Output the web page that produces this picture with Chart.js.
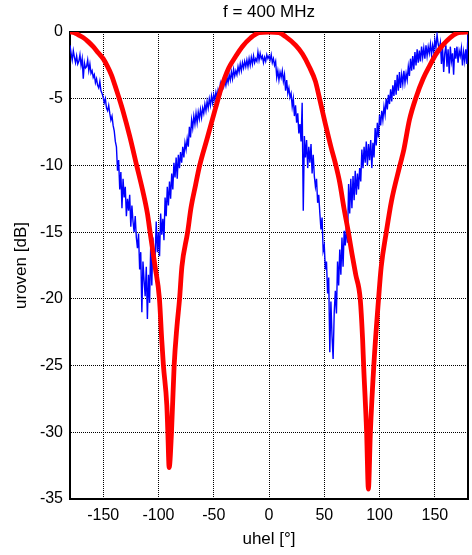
<!DOCTYPE html>
<html>
<head>
<meta charset="utf-8">
<script src="https://cdn.jsdelivr.net/npm/chart.js@4.4.1/dist/chart.umd.min.js"></script>
<style>
  html, body { margin: 0; padding: 0; background: #fff; }
  #wrap { width: 472px; height: 555px; }
</style>
</head>
<body>
<div id="wrap"><canvas id="myChart" width="472" height="555"></canvas></div>
<script>
// tick labels
var xTicks = [-150, -100, -50, 0, 50, 100, 150];
var yTicks = [0, -5, -10, -15, -20, -25, -30, -35];

// computed pattern (red)
var redAngles = [-180, -176, -172.7, -168, -163.6, -159, -154.5, -150, -146, -142.4, -139.5, -136.4, -131.8, -126, -119.7, -114.2, -110,
                 -107.6, -103, -99.1, -97, -95.5, -92.4, -91.5, -90.3, -88.2, -85.8, -83.3, -80.9, -78.8, -73.6, -70.6, -66.5,
                 -62.7, -56, -48.5, -42.4, -36.4, -30.3, -24.2, -16.7, -9, 0,
                 9, 15, 24.2, 30.3, 36.4, 42, 45.5, 51, 56, 60.5, 64, 67.8, 71.8, 75, 78.5, 82.5, 84.7, 85.6, 88.3, 89.9,
                 91.7, 94.8, 99.1, 101.5, 106.1, 110.7, 118.4, 122, 127, 133, 139.4, 145.5, 151.5, 157.6, 163.6, 169.7, 175, 180];
var redLevels = [0, -0.05, -0.2, -0.42, -0.72, -1.1, -1.55, -2.0, -2.6, -3.25, -3.95, -4.75, -6.0, -7.8, -10.0, -11.9, -13.6,
                 -15.0, -17.6, -20.0, -23.1, -25.0, -28.0, -30.0, -32.65, -30.0, -25.0, -22.1, -20.0, -17.6, -15.0, -13.2, -11.5,
                 -10.0, -8.0, -5.75, -4.0, -2.7, -1.85, -1.1, -0.45, -0.05, 0,
                 -0.05, -0.35, -1.0, -1.65, -2.6, -3.7, -4.9, -6.9, -8.6, -10.0, -11.3, -13.2, -15.0, -16.6, -18.2, -20.0, -23.1, -25.0, -30.0, -34.25,
                 -30.0, -25.0, -20.0, -17.6, -15.0, -12.7, -10.0, -8.8, -6.6, -4.9, -3.5, -2.5, -1.6, -0.95, -0.45, -0.1, -0.02, 0];

// measured pattern (blue), one value per degree from -180
var blueStart = -180;
var blueStep = 1;
var blueLevels = [
  -1.0, -1.6, -2.1, -1.4, -1.9, -2.3, -1.8, -2.4, -2.2, -1.7,
  -2.5, -2.0, -3.5, -2.3, -2.7, -2.6, -2.1, -2.9, -2.4, -3.1,
  -2.9, -3.4, -3.2, -3.8, -3.5, -4.0, -4.2, -3.7, -4.4, -4.6,
  -4.9, -5.3, -5.0, -5.7, -5.9, -5.5, -6.1, -6.6, -6.3, -7.0,
  -7.4, -8.2, -8.6, -10.4, -9.6, -11.8, -10.5, -13.2, -11.0, -12.4,
  -11.6, -13.8, -12.5, -13.4, -12.2, -14.6, -13.0, -14.2, -15.0, -13.8,
  -15.4, -16.2, -15.1, -17.8, -16.5, -21.0, -17.2, -18.6, -19.8, -17.6,
  -21.5, -18.2, -20.3, -16.0, -19.0, -15.4, -17.6, -16.8, -14.2, -16.5,
  -15.0, -16.8, -13.6, -15.2, -14.0, -15.6, -12.4, -13.8, -11.6, -13.0,
  -11.2, -12.5, -10.6, -11.8, -9.8, -10.9, -9.4, -11.0, -9.2, -10.2,
  -9.0, -9.8, -8.6, -9.4, -8.3, -8.8, -8.0, -8.6, -7.1, -7.9,
  -6.6, -7.2, -6.3, -6.9, -6.1, -6.8, -6.0, -6.5, -5.8, -6.4,
  -5.7, -6.1, -5.4, -5.9, -5.2, -5.7, -5.0, -5.5, -4.8, -5.3,
  -4.7, -5.1, -4.5, -4.9, -4.3, -4.6, -3.9, -4.4, -3.7, -4.1,
  -3.6, -4.0, -3.4, -3.8, -3.2, -3.6, -3.0, -3.5, -2.8, -3.3,
  -2.9, -3.2, -2.6, -3.0, -2.4, -2.9, -2.3, -2.7, -2.2, -2.6,
  -2.1, -2.6, -2.0, -2.5, -1.9, -2.4, -1.8, -2.3, -2.0, -2.2,
  -1.5, -2.1, -1.6, -2.0, -1.8, -2.3, -1.9, -2.2, -1.7, -2.0,
  -1.8, -2.1, -1.7, -2.3, -2.0, -2.5, -2.2, -3.4, -2.9, -3.6,
  -3.0, -3.4, -2.9, -3.7, -3.2, -4.4, -3.6, -4.6, -4.2, -4.9,
  -4.6, -5.6, -5.0, -6.3, -5.5, -6.8, -6.1, -7.6, -6.9, -8.2,
  -5.3, -13.4, -7.8, -9.4, -8.1, -10.2, -8.6, -9.8, -8.4, -10.6,
  -9.2, -10.8, -11.6, -11.0, -12.8, -12.2, -13.6, -14.8, -13.9, -16.4,
  -16.0, -17.8, -17.2, -19.6, -18.4, -24.0, -20.2, -22.8, -24.5, -21.0,
  -19.4, -21.1, -17.2, -19.0, -16.3, -18.2, -15.4, -17.6, -14.9, -16.0,
  -14.6, -15.8, -11.4, -13.6, -11.0, -13.2, -10.8, -12.6, -10.4, -12.2,
  -10.6, -11.8, -10.2, -11.2, -8.8, -10.2, -8.6, -9.8, -8.2, -10.0,
  -8.4, -9.6, -8.1, -10.2, -8.3, -9.4, -7.2, -8.5, -6.8, -7.9,
  -6.2, -7.0, -5.9, -6.6, -5.6, -6.2, -5.0, -5.8, -4.7, -5.4,
  -4.3, -5.2, -4.0, -4.8, -3.6, -4.7, -3.2, -4.4, -3.0, -4.2,
  -3.2, -3.9, -2.9, -3.8, -3.1, -3.6, -2.6, -3.3, -2.0, -2.9,
  -1.8, -2.8, -1.5, -2.5, -1.3, -2.3, -1.4, -2.2, -1.1, -1.9,
  -1.2, -2.0, -1.0, -1.8, -1.1, -1.6, -0.9, -1.7, -1.0, -1.5,
  -0.6, -1.2, -0.2, -0.9, -1.3, -0.8, -2.4, -1.2, -3.0, -1.6,
  -1.0, -2.6, -1.3, -3.1, -1.1, -2.2, -1.6, -3.2, -1.2, -2.0,
  -1.1, -2.3, -1.4, -1.8, -1.2, -2.5, -1.5, -2.2, -1.3, -2.4,
  0.0
];

var redPoints = redAngles.map(function (a, i) { return {x: a, y: redLevels[i]}; });
var bluePoints = blueLevels.map(function (v, i) { return {x: blueStart + i * blueStep, y: v}; });

var fontFamily = 'Arial, "Liberation Sans", sans-serif';
var gridColor = '#000';

var ctx = document.getElementById('myChart').getContext('2d');
var graphData = {
    type: 'line',
    data: {
        datasets: [{
            label: 'vypocet',
            data: redPoints,
            borderColor: '#ff0000',
            borderWidth: 4.8,
            pointRadius: 0,
            cubicInterpolationMode: 'monotone',
            clip: 0
        }, {
            label: 'mereni',
            data: bluePoints,
            borderColor: '#0000ff',
            borderWidth: 1.4,
            pointRadius: 0,
            tension: 0,
            clip: 0
        }]
    },
    options: {
        responsive: false,
        animation: false,
        devicePixelRatio: 1,
        layout: { padding: { left: 0, right: 4, top: 0, bottom: 0 } },
        plugins: {
            legend: { display: false },
            tooltip: { enabled: false },
            title: {
                display: true,
                fullSize: false,
                text: 'f = 400 MHz',
                color: '#000',
                font: { family: fontFamily, size: 17, weight: 'normal', lineHeight: 1.2 },
                padding: { top: 2, bottom: 9.6 }
            }
        },
        scales: {
            x: {
                type: 'linear',
                min: -180,
                max: 180,
                afterBuildTicks: function (scale) { scale.ticks = xTicks.map(function (v) { return {value: v}; }); },
                afterFit: function (scale) { scale.height = 56; },
                ticks: {
                    color: '#000',
                    font: { family: fontFamily, size: 16 },
                    padding: 7,
                    maxRotation: 0,
                    callback: function (v) { return String(v); }
                },
                grid: { color: gridColor, lineWidth: 1, drawTicks: false },
                border: { display: true, color: '#000', width: 2, dash: [1, 1] },
                title: {
                    display: true,
                    text: 'uhel [°]',
                    color: '#000',
                    font: { family: fontFamily, size: 17, lineHeight: 1.2 },
                    padding: { top: 0, bottom: 5 }
                }
            },
            y: {
                type: 'linear',
                min: -35,
                max: 0,
                afterBuildTicks: function (scale) { scale.ticks = yTicks.map(function (v) { return {value: v}; }); },
                afterFit: function (scale) { scale.width = 70; },
                ticks: {
                    color: '#000',
                    font: { family: fontFamily, size: 16 },
                    padding: 7,
                    callback: function (v) { return String(v); }
                },
                grid: { color: gridColor, lineWidth: 1, drawTicks: false },
                border: { display: true, color: '#000', width: 2, dash: [1, 1] },
                title: {
                    display: true,
                    text: 'uroven [dB]',
                    color: '#000',
                    font: { family: fontFamily, size: 17, lineHeight: 1.2 },
                    padding: { top: 11, bottom: 0 }
                }
            },
            xTop: {
                type: 'linear',
                position: 'top',
                min: -180,
                max: 180,
                afterFit: function (scale) { scale.height = 0; },
                ticks: { display: false },
                grid: { display: false },
                border: { display: true, color: '#000', width: 2 }
            },
            yRight: {
                type: 'linear',
                position: 'right',
                min: -35,
                max: 0,
                afterFit: function (scale) { scale.width = 0; },
                ticks: { display: false },
                grid: { display: false },
                border: { display: true, color: '#000', width: 2 }
            }
        }
    }
};

var myChart = new Chart(ctx, graphData);
</script>
</body>
</html>
